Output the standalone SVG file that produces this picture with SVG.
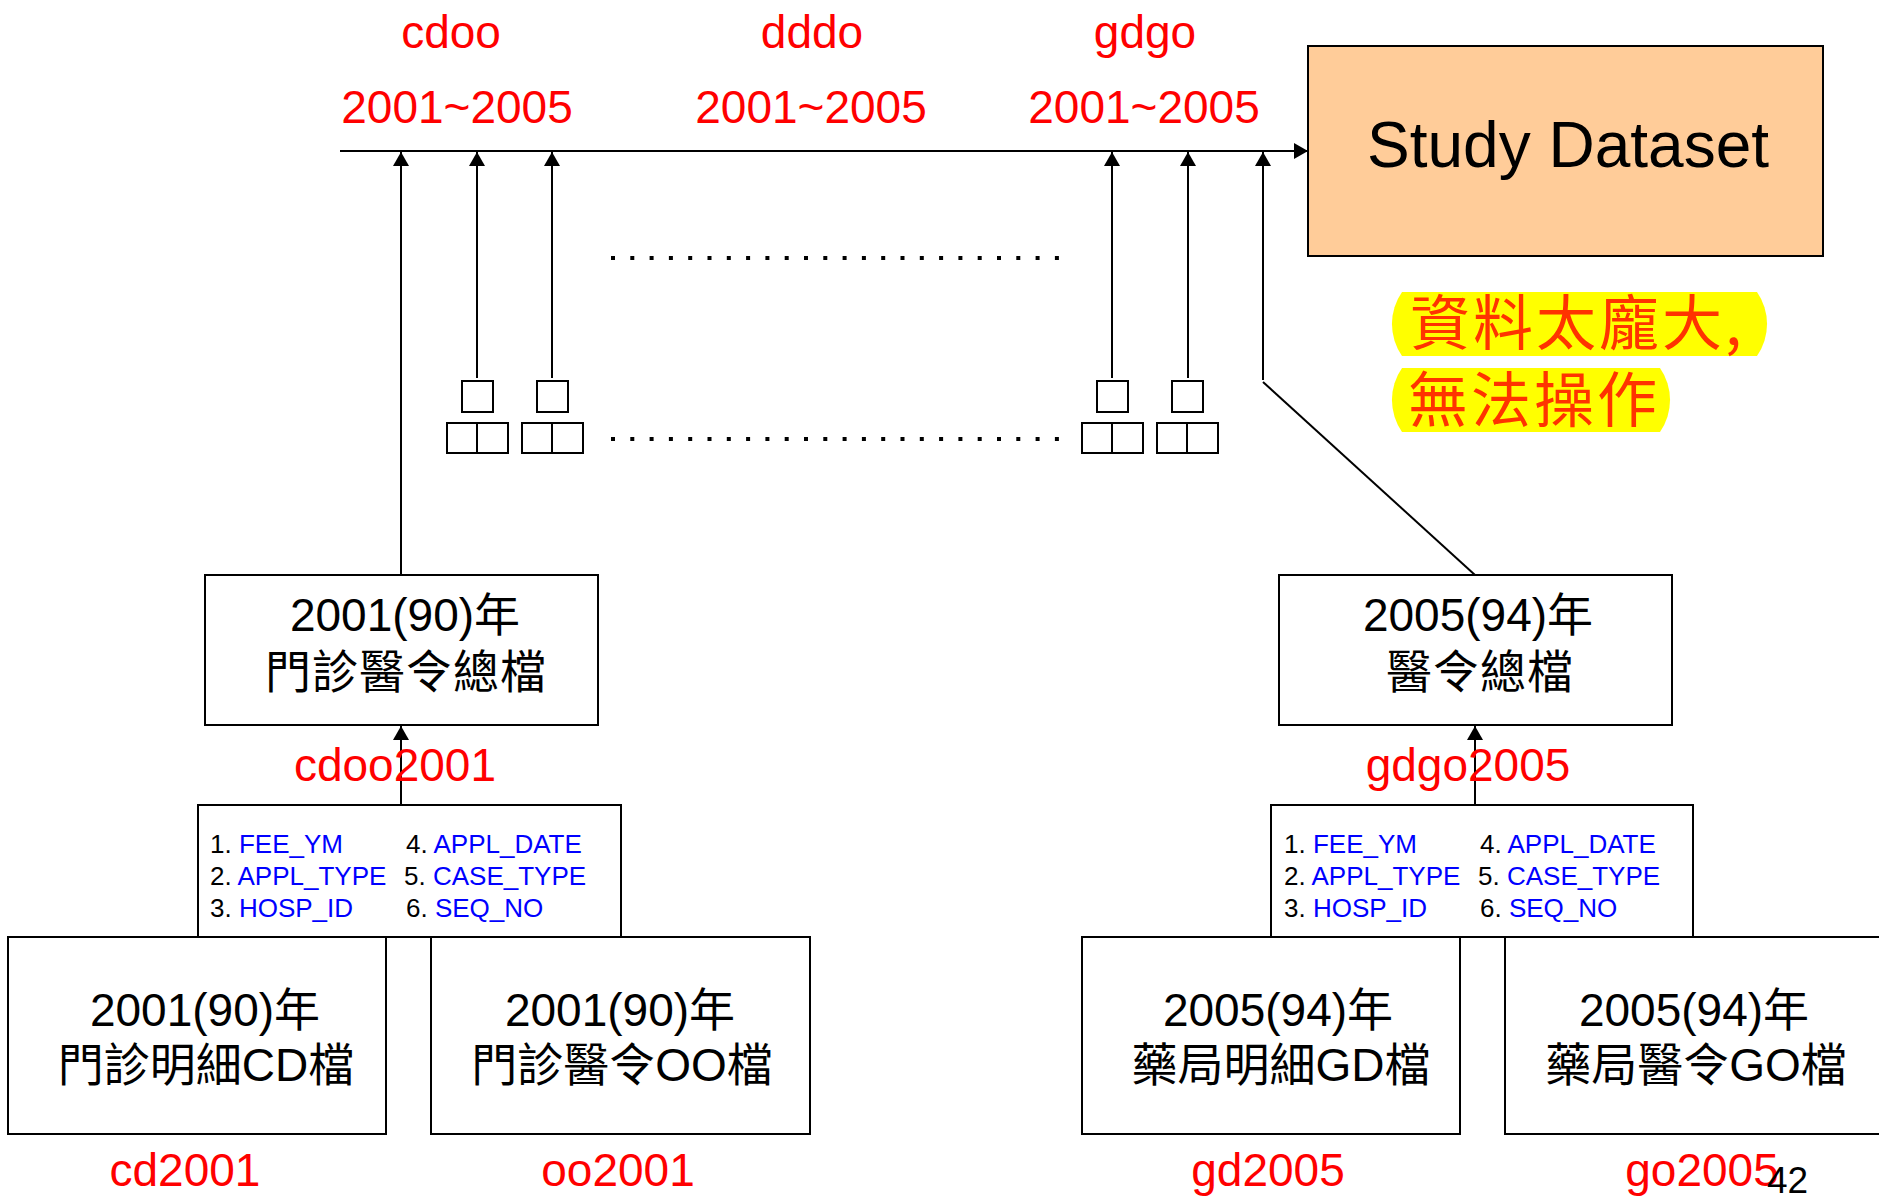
<svg xmlns="http://www.w3.org/2000/svg" width="1879" height="1197" viewBox="0 0 1879 1197">
<style>
.bx{fill:#fff;stroke:#000;stroke-width:2}
.ln{stroke:#000;stroke-width:2;fill:none}
.t{font-family:"Liberation Sans","Noto Sans CJK TC",sans-serif;fill:#000}
.big{font-size:46px;text-anchor:middle}
.red{font-family:"Liberation Sans",sans-serif;font-size:46px;fill:#ff0000;text-anchor:middle}
.fld{font-family:"Liberation Sans",sans-serif;font-size:26px;fill:#000}
.b{fill:#0000ff}
.dot{stroke:#000;stroke-width:4;stroke-dasharray:4 15.3;fill:none}
.cj{font-family:"Noto Sans CJK TC",sans-serif;font-size:60px;fill:#ff3300;letter-spacing:3px}
</style>
<defs>
<marker id="ah" viewBox="0 0 14 16" refX="14" refY="8" markerWidth="14" markerHeight="16" markerUnits="userSpaceOnUse" orient="auto">
<path d="M0,0 L14,8 L0,16 z" fill="#000"/>
</marker>
</defs>

<g id="labels-top">
<text class="red" x="451" y="48">cdoo</text>
<text class="red" x="812" y="48">dddo</text>
<text class="red" x="1145" y="48">gdgo</text>
<text class="red" x="457" y="123">2001~2005</text>
<text class="red" x="811" y="123">2001~2005</text>
<text class="red" x="1144" y="123">2001~2005</text>
</g>

<g id="study-dataset">
<rect x="1308" y="46" width="515" height="210" fill="#ffcc99" stroke="#000" stroke-width="2"/>
<text class="t" x="1568" y="167" font-size="64" text-anchor="middle">Study Dataset</text>
</g>

<g id="callout">
<path d="M1402,292 H1757 A56,56 0 0 1 1757,356 H1402 A56,56 0 0 1 1402,292 Z" fill="#ffff00"/>
<path d="M1402,368 H1660 A56,56 0 0 1 1660,432 H1402 A56,56 0 0 1 1402,368 Z" fill="#ffff00"/>
<text class="cj" x="1410" y="345">資料太龐大,</text>
<text class="cj" x="1408" y="422">無法操作</text>
</g>

<g id="small-squares">
<rect class="bx" x="462" y="381" width="31" height="31"/>
<rect class="bx" x="447" y="423" width="30" height="30"/>
<rect class="bx" x="477" y="423" width="31" height="30"/>
<rect class="bx" x="537" y="381" width="31" height="31"/>
<rect class="bx" x="522" y="423" width="30" height="30"/>
<rect class="bx" x="552" y="423" width="31" height="30"/>
<rect class="bx" x="1097" y="381" width="31" height="31"/>
<rect class="bx" x="1082" y="423" width="30" height="30"/>
<rect class="bx" x="1112" y="423" width="31" height="30"/>
<rect class="bx" x="1172" y="381" width="31" height="31"/>
<rect class="bx" x="1157" y="423" width="30" height="30"/>
<rect class="bx" x="1187" y="423" width="31" height="30"/>
</g>

<g id="dots">
<line class="dot" x1="611" y1="258" x2="1060" y2="258"/>
<line class="dot" x1="611" y1="439" x2="1060" y2="439"/>
</g>

<g id="box-2001-total">
<rect class="bx" x="205" y="575" width="393" height="150"/>
<text class="t big" x="405" y="631">2001(90)年</text>
<text class="t big" x="406" y="688" letter-spacing="1">門診醫令總檔</text>
</g>

<g id="box-2005-total">
<rect class="bx" x="1279" y="575" width="393" height="150"/>
<text class="t big" x="1478" y="631">2005(94)年</text>
<text class="t big" x="1480" y="688" letter-spacing="1">醫令總檔</text>
</g>

<g id="fields-left">
<rect class="bx" x="198" y="805" width="423" height="132"/>
<text class="fld" x="210" y="853">1. <tspan class="b">FEE_YM</tspan></text>
<text class="fld" x="210" y="885">2. <tspan class="b">APPL_TYPE</tspan></text>
<text class="fld" x="210" y="917">3. <tspan class="b">HOSP_ID</tspan></text>
<text class="fld" x="406" y="853">4. <tspan class="b">APPL_DATE</tspan></text>
<text class="fld" x="404" y="885">5. <tspan class="b">CASE_TYPE</tspan></text>
<text class="fld" x="406" y="917">6. <tspan class="b">SEQ_NO</tspan></text>
</g>

<g id="fields-right">
<rect class="bx" x="1271" y="805" width="422" height="132"/>
<text class="fld" x="1284" y="853">1. <tspan class="b">FEE_YM</tspan></text>
<text class="fld" x="1284" y="885">2. <tspan class="b">APPL_TYPE</tspan></text>
<text class="fld" x="1284" y="917">3. <tspan class="b">HOSP_ID</tspan></text>
<text class="fld" x="1480" y="853">4. <tspan class="b">APPL_DATE</tspan></text>
<text class="fld" x="1478" y="885">5. <tspan class="b">CASE_TYPE</tspan></text>
<text class="fld" x="1480" y="917">6. <tspan class="b">SEQ_NO</tspan></text>
</g>

<g id="box-cd2001">
<rect class="bx" x="8" y="937" width="378" height="197"/>
<text class="t big" x="205" y="1026">2001(90)年</text>
<text class="t big" x="206" y="1081">門診明細CD檔</text>
<text class="red" x="185" y="1186">cd2001</text>
</g>

<g id="box-oo2001">
<rect class="bx" x="431" y="937" width="379" height="197"/>
<text class="t big" x="620" y="1026">2001(90)年</text>
<text class="t big" x="622" y="1081">門診醫令OO檔</text>
<text class="red" x="618" y="1186">oo2001</text>
</g>

<g id="box-gd2005">
<rect class="bx" x="1082" y="937" width="378" height="197"/>
<text class="t big" x="1278" y="1026">2005(94)年</text>
<text class="t big" x="1281" y="1081">藥局明細GD檔</text>
<text class="red" x="1268" y="1186">gd2005</text>
</g>

<g id="box-go2005">
<rect class="bx" x="1505" y="937" width="380" height="197"/>
<text class="t big" x="1694" y="1026">2005(94)年</text>
<text class="t big" x="1696" y="1081">藥局醫令GO檔</text>
<text class="red" x="1702" y="1186">go2005</text>
</g>

<g id="connectors">
<line class="ln" x1="340" y1="151" x2="1308" y2="151" marker-end="url(#ah)"/>
<line class="ln" x1="401" y1="575" x2="401" y2="152" marker-end="url(#ah)"/>
<line class="ln" x1="477" y1="378" x2="477" y2="152" marker-end="url(#ah)"/>
<line class="ln" x1="552" y1="378" x2="552" y2="152" marker-end="url(#ah)"/>
<line class="ln" x1="1112" y1="378" x2="1112" y2="152" marker-end="url(#ah)"/>
<line class="ln" x1="1188" y1="378" x2="1188" y2="152" marker-end="url(#ah)"/>
<line class="ln" x1="1263" y1="380" x2="1263" y2="152" marker-end="url(#ah)"/>
<line class="ln" x1="1263" y1="382" x2="1475" y2="575"/>
<line class="ln" x1="401" y1="805" x2="401" y2="726" marker-end="url(#ah)"/>
<line class="ln" x1="1475" y1="805" x2="1475" y2="726" marker-end="url(#ah)"/>
</g>

<g id="connector-labels">
<text class="red" x="395" y="781">cdoo2001</text>
<text class="red" x="1468" y="781">gdgo2005</text>
</g>

<g id="page-number">
<text class="t" x="1767" y="1193" font-size="37">42</text>
</g>
</svg>
